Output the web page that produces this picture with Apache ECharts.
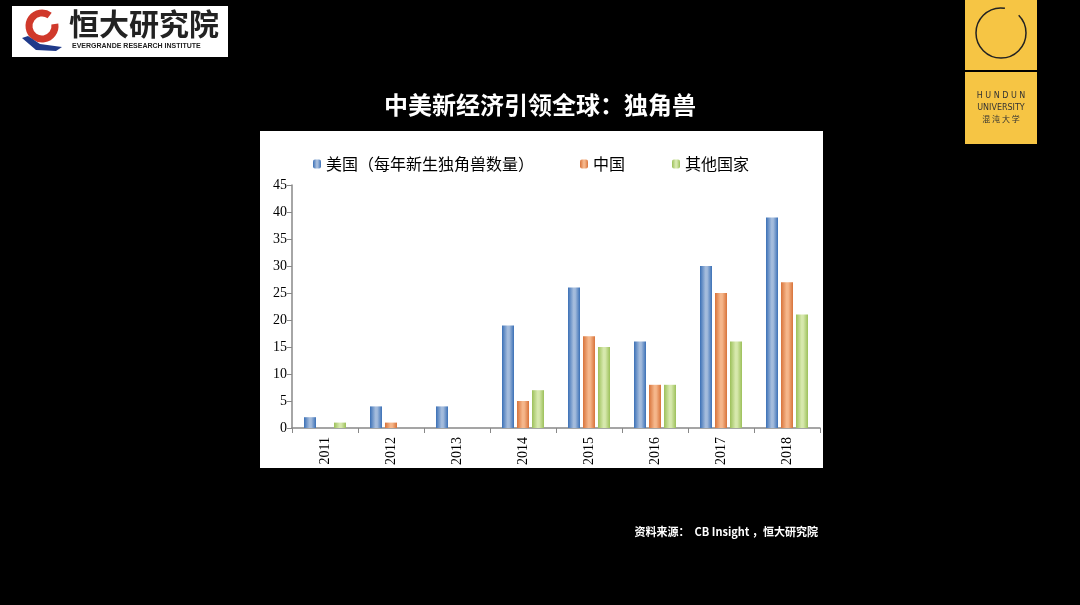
<!DOCTYPE html>
<html><head><meta charset="utf-8">
<script src="https://cdn.jsdelivr.net/npm/echarts@6/dist/echarts.min.js"></script>
<style>html,body{margin:0;padding:0;background:#000;}#c{width:1080px;height:605px;}</style>
</head><body><div id="c"></div>
<script>
const categories = ['2011','2012','2013','2014','2015','2016','2017','2018'];
const usValues = [2, 4, 4, 19, 26, 16, 30, 39];
const chinaValues = [0, 1, 0, 5, 17, 8, 25, 27];
const otherValues = [1, 0, 0, 7, 15, 8, 16, 21];
const seriesNames = ['美国（每年新生独角兽数量）', '中国', '其他国家'];
const yTicks = {min: 0, max: 45, interval: 5};

function grad(edge, mid) {
  return new echarts.graphic.LinearGradient(0, 0, 1, 0, [
    {offset: 0, color: edge}, {offset: 0.45, color: mid}, {offset: 0.6, color: mid}, {offset: 1, color: edge}
  ]);
}
const serif = '"Liberation Serif", "DejaVu Serif", serif';
const legendText = {color: '#000', fontSize: 16, fontFamily: '"Noto Sans CJK SC"'};
function leg(name, left) {
  return {top: 151, left: left, itemWidth: 8, itemHeight: 9, textStyle: legendText, data: [name]};
}
const chart = echarts.init(document.getElementById('c'));
chart.setOption({
  backgroundColor: '#000',
  animation: false,
  title: {
    text: '中美新经济引领全球：独角兽', left: 'center', top: 88,
    textStyle: {color: '#fff', fontSize: 24, fontWeight: 'bold', fontFamily: '"Noto Sans CJK SC"'}
  },
  legend: [leg(seriesNames[0], 308), leg(seriesNames[1], 575), leg(seriesNames[2], 667)],
  grid: {left: 292, right: 260, top: 185, bottom: 177},
  xAxis: {
    type: 'category', data: categories,
    axisLine: {lineStyle: {color: '#888', width: 1.5}},
    axisTick: {show: true, length: 5, lineStyle: {color: '#888'}},
    axisLabel: {rotate: 90, color: '#000', fontSize: 14, fontFamily: serif, margin: 9}
  },
  yAxis: {
    type: 'value', min: yTicks.min, max: yTicks.max, interval: yTicks.interval,
    splitLine: {show: false},
    axisLine: {show: true, lineStyle: {color: '#888', width: 1.5}},
    axisTick: {show: true, length: 5, lineStyle: {color: '#888'}},
    axisLabel: {color: '#000', fontSize: 14, fontFamily: serif, margin: 5}
  },
  series: [
    {name: seriesNames[0], type: 'bar', data: usValues, barWidth: 12, barGap: '25%',
     itemStyle: {color: grad('#3b70b6', '#a3bbdc')}},
    {name: seriesNames[1], type: 'bar', data: chinaValues, barWidth: 12, barGap: '25%',
     itemStyle: {color: grad('#d8733a', '#f5b68a')}},
    {name: seriesNames[2], type: 'bar', data: otherValues, barWidth: 12, barGap: '25%',
     itemStyle: {color: grad('#9cc05a', '#d6e8ac')}}
  ],
  graphic: [
    {type: 'rect', z: -10, shape: {x: 260, y: 131, width: 563, height: 337}, style: {fill: '#fff'}},
    // Evergrande logo
    {type: 'rect', shape: {x: 12, y: 6, width: 216, height: 51}, style: {fill: '#fff'}},
    {type: 'arc', shape: {cx: 42, cy: 26, r: 13, startAngle: -Math.PI * 0.05, endAngle: Math.PI * 1.7}, style: {stroke: '#d0392b', lineWidth: 7, fill: null}},
    {type: 'polygon', shape: {points: [[22, 38], [36, 50], [56, 51], [62, 47], [40, 44], [28, 36]]}, style: {fill: '#1f3a8a'}},
    {type: 'text', style: {x: 69, y: 9, text: '恒大研究院', fill: '#222', font: 'bold 30px "Noto Sans CJK SC"'}},
    {type: 'text', style: {x: 72, y: 43, text: 'EVERGRANDE RESEARCH INSTITUTE', fill: '#222', font: 'bold 7px "Liberation Sans"'}},
    // Hundun logo
    {type: 'rect', shape: {x: 965, y: 0, width: 72, height: 70}, style: {fill: '#f6c544'}},
    {type: 'rect', shape: {x: 965, y: 72, width: 72, height: 72}, style: {fill: '#f6c544'}},
    {type: 'arc', shape: {cx: 1001, cy: 33, r: 25, startAngle: -Math.PI * 0.25, endAngle: Math.PI * 1.55}, style: {stroke: '#222', lineWidth: 1.5, fill: null}},
    {type: 'text', style: {x: 1001, y: 92, text: 'H U N D U N', fill: '#333', font: '8px "DejaVu Sans"', align: 'center'}},
    {type: 'text', style: {x: 1001, y: 104, text: 'UNIVERSITY', fill: '#333', font: '8px "DejaVu Sans"', align: 'center'}},
    {type: 'text', style: {x: 1001, y: 115, text: '混 沌 大 学', fill: '#333', font: '8px "Noto Sans CJK SC"', align: 'center'}},
    // Source
    {type: 'text', style: {x: 818, y: 526, text: '资料来源：  CB Insight ，恒大研究院', fill: '#fff', font: 'bold 11px "Noto Sans CJK SC"', align: 'right'}}
  ]
});
</script></body></html>
